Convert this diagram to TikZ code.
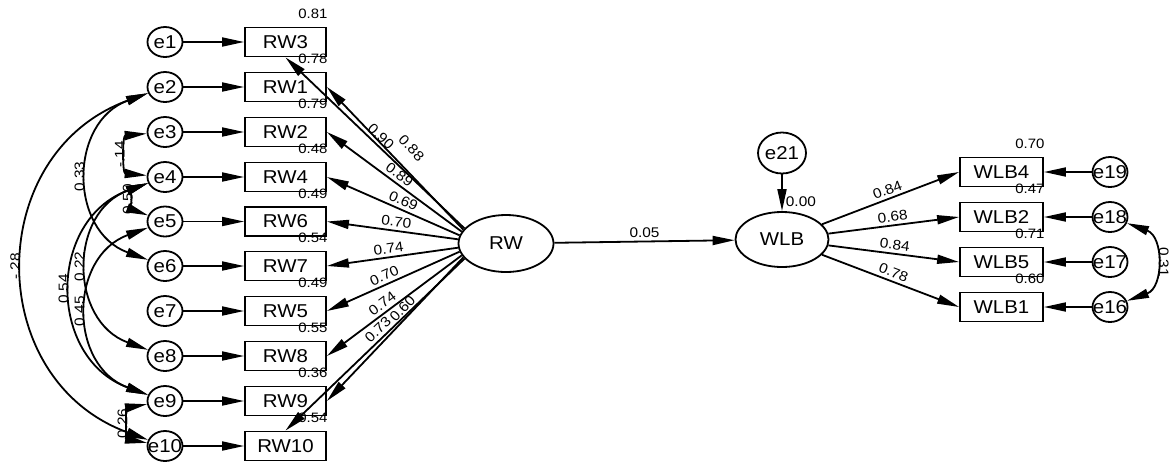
\documentclass[tikz,border=0pt]{standalone}
\usepackage{fontspec}
\setmainfont{Liberation Sans}[FakeStretch=1.1]
\usetikzlibrary{arrows.meta,shapes.geometric}

\tikzset{
  obs/.style={draw, rectangle, line width=0.9pt, minimum width=40.5pt, minimum height=14.5pt, inner sep=0pt, font=\fontsize{9.3}{11}\selectfont},
  err/.style={draw, ellipse, line width=0.9pt, minimum width=17.5pt, minimum height=15pt, inner xsep=-3pt, inner ysep=0pt, font=\fontsize{9.3}{11}\selectfont},
  lat/.style={draw, ellipse, line width=0.9pt, minimum width=47.5pt, minimum height=28.5pt, inner sep=0pt, font=\fontsize{9.3}{11}\selectfont},
  reg/.style={line width=0.9pt, -{Triangle[length=11pt,width=4.5pt]}},
  cov/.style={line width=0.9pt, {Triangle[length=11pt,width=4.5pt]}-{Triangle[length=11pt,width=4.5pt]}, out=200, in=160, looseness=1.3},
  coef/.style={font=\fontsize{7}{8}\selectfont, inner sep=1.5pt},
  rsq/.style={font=\fontsize{6.8}{8}\selectfont, inner sep=0pt, anchor=base east, yshift=4pt, xshift=0.5pt}
}

\begin{document}
\begin{tikzpicture}[x=0.5pt, y=0.5pt]

    \useasboundingbox (0,0) rectangle (1171,463);

    \node[err] (e1) at (165,421) {e1};
    \node[err] (e2) at (165,376) {e2};
    \node[err] (e3) at (165,331) {e3};
    \node[err] (e4) at (165,286) {e4};
    \node[err] (e5) at (165,241.5) {e5};
    \node[err] (e6) at (165,197) {e6};
    \node[err] (e7) at (165,152) {e7};
    \node[err] (e8) at (165,107) {e8};
    \node[err] (e9) at (165,62) {e9};
    \node[err] (e10) at (165,17) {e10};

    \node[obs, label={[rsq]north east:0.81}] (RW3) at (285.5,421) {RW3};
    \node[obs, label={[rsq]north east:0.78}] (RW1) at (285.5,376) {RW1};
    \node[obs, label={[rsq]north east:0.79}] (RW2) at (285.5,331) {RW2};
    \node[obs, label={[rsq]north east:0.48}] (RW4) at (285.5,286) {RW4};
    \node[obs, label={[rsq]north east:0.49}] (RW6) at (285.5,241.5) {RW6};
    \node[obs, label={[rsq]north east:0.54}] (RW7) at (285.5,197) {RW7};
    \node[obs, label={[rsq]north east:0.49}] (RW5) at (285.5,152) {RW5};
    \node[obs, label={[rsq]north east:0.55}] (RW8) at (285.5,107) {RW8};
    \node[obs, label={[rsq]north east:0.36}] (RW9) at (285.5,62) {RW9};
    \node[obs, label={[rsq]north east:0.54}] (RW10) at (285.5,17) {RW10};

    \node[lat] (RW) at (506,219.5) {RW};
    \node[lat, minimum width=46.5pt, minimum height=27.5pt] (WLB) at (782,223.5) {WLB};
    \node[err, minimum width=24pt, minimum height=20.5pt] (e21) at (782,310) {e21};

    \node[obs, minimum width=41.5pt, label={[rsq]north east:0.70}] (WLB4) at (1001.5,291) {WLB4};
    \node[obs, minimum width=41.5pt, label={[rsq]north east:0.47}] (WLB2) at (1001.5,246) {WLB2};
    \node[obs, minimum width=41.5pt, label={[rsq]north east:0.71}] (WLB5) at (1001.5,201) {WLB5};
    \node[obs, minimum width=41.5pt, label={[rsq]north east:0.60}] (WLB1) at (1001.5,156) {WLB1};

    \node[err] (e19) at (1110,291) {e19};
    \node[err] (e18) at (1110,246) {e18};
    \node[err] (e17) at (1110,201) {e17};
    \node[err] (e16) at (1110,156) {e16};

    \draw[reg] (e1) -- (RW3);
    \draw[reg] (e2) -- (RW1);
    \draw[reg] (e3) -- (RW2);
    \draw[reg] (e4) -- (RW4);
    \draw[reg] (e5) -- (RW6);
    \draw[reg] (e6) -- (RW7);
    \draw[reg] (e7) -- (RW5);
    \draw[reg] (e8) -- (RW8);
    \draw[reg] (e9) -- (RW9);
    \draw[reg] (e10) -- (RW10);

    \draw[reg] (RW.160) -- node[coef, sloped, above, pos=0.50] {0.90} (RW3.south);
    \draw[reg] (RW.162) -- node[coef, sloped, above=5pt, pos=0.48] {0.88} (RW1.east);
    \draw[reg] (RW.165) -- node[coef, sloped, above, pos=0.50] {0.89} (RW2.east);
    \draw[reg] (RW.170) -- node[coef, sloped, above, pos=0.45] {0.69} (RW4.east);
    \draw[reg] (RW.175) -- node[coef, sloped, above, pos=0.48] {0.70} (RW6.east);
    \draw[reg] (RW.185) -- node[coef, sloped, above, pos=0.52] {0.74} (RW7.east);
    \draw[reg] (RW.190) -- node[coef, sloped, above, pos=0.54] {0.70} (RW5.east);
    \draw[reg] (RW.195) -- node[coef, sloped, above, pos=0.55] {0.74} (RW8.east);
    \draw[reg] (RW.198) -- node[coef, sloped, above, pos=0.40] {0.60} (RW9.east);
    \draw[reg] (RW.200) -- node[coef, sloped, above, pos=0.45] {0.73} (RW10.north);

    \draw[reg] (RW) -- node[coef, above] {0.05} (WLB);
    \draw[reg] (e21) -- node[coef, right, pos=0.75] {0.00} (WLB);

    \draw[reg] (WLB) -- node[coef, sloped, above, pos=0.5] {0.84} (WLB4.west);
    \draw[reg] (WLB) -- node[coef, sloped, above, pos=0.5] {0.68} (WLB2.west);
    \draw[reg] (WLB) -- node[coef, sloped, above, pos=0.5] {0.84} (WLB5.west);
    \draw[reg] (WLB) -- node[coef, sloped, above, pos=0.5] {0.78} (WLB1.west);

    \draw[reg] (e19) -- (WLB4);
    \draw[reg] (e18) -- (WLB2);
    \draw[reg] (e17) -- (WLB5);
    \draw[reg] (e16) -- (WLB1);

    \draw[cov] (e2) to node[coef, midway, rotate=90, anchor=south] {-.28} (e10);
    \draw[cov] (e2) to node[coef, midway, rotate=90, anchor=south] {0.33} (e6);
    \draw[cov, out=185, in=175, looseness=1.5] (e3) to node[coef, midway, rotate=90, anchor=south] {-.14} (e4);
    \draw[cov] (e4) to node[coef, midway, rotate=90, anchor=south] {0.50} (e5);
    \draw[cov] (e4) to node[coef, midway, rotate=90, anchor=south] {0.22} (e8);
    \draw[cov] (e4) to node[coef, midway, rotate=90, anchor=south] {0.54} (e9);
    \draw[cov] (e5) to node[coef, midway, rotate=90, anchor=south] {0.45} (e9);
    \draw[cov, out=190, in=170, looseness=1.4] (e9) to node[coef, midway, rotate=90, anchor=south] {0.26} (e10);
    \draw[cov, out=-20, in=20] (e18) to node[coef, midway, rotate=-90, anchor=south] {0.31} (e16);

\end{tikzpicture}
\end{document}
